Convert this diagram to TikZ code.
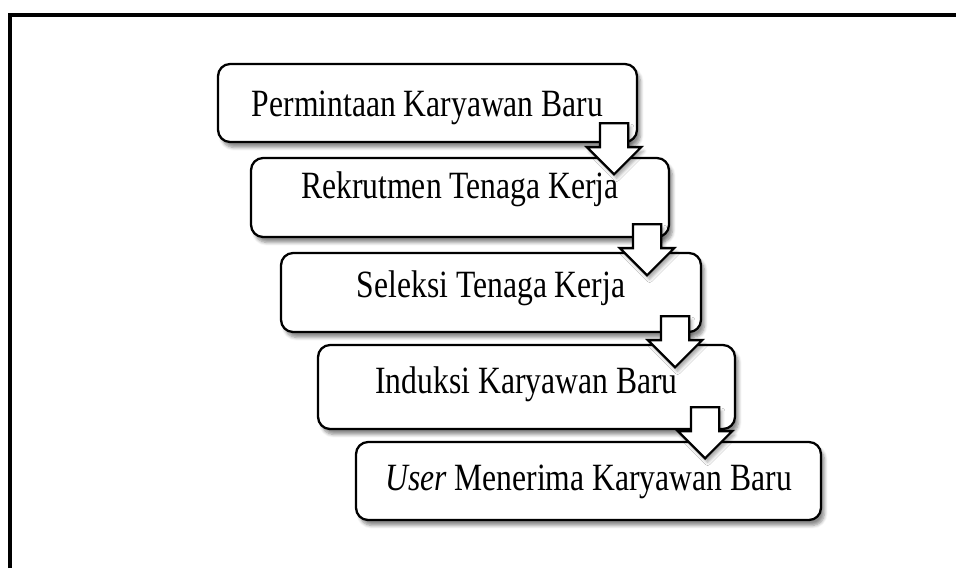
\documentclass[tikz,border=0pt]{standalone}
\usepackage{fontspec}
\setmainfont{Liberation Serif}
\usepackage{tikz}
\usetikzlibrary{shapes.arrows, shadows.blur, calc, positioning}

% tall step text
\newcommand{\steptext}[1]{\scalebox{1}[1.22]{#1}}

\tikzset{
    flowbox/.style={rectangle, rounded corners=0.24cm, draw, line width=1.3pt, fill=white,
        minimum width=#1, minimum height=1.58cm, inner sep=0pt,
        font=\fontsize{18}{22}\selectfont,
        blur shadow={shadow xshift=0.07cm, shadow yshift=-0.11cm, shadow blur steps=6, shadow opacity=45}},
    lift/.style={text height=#1, text depth=0pt},
    bigarrow/.style={single arrow, shape border rotate=270, draw, line width=1.3pt, fill=white,
        inner sep=0pt, text width=0.52cm, text height=0.52cm, text depth=0pt,
        minimum height=1.02cm, single arrow head extend=0.26cm,
        blur shadow={shadow xshift=0.05cm, shadow yshift=-0.08cm, shadow blur steps=5, shadow opacity=35}}
}

\begin{document}
\begin{tikzpicture}[x=0.02cm, y=-0.02cm]
    \useasboundingbox (0,0) rectangle (956,568);

    % Frame
    \coordinate (fbl) at (10,568);
    \coordinate (ftl) at (10,15);
    \coordinate (ftr) at (956,15);
    \draw[line width=2.3pt] (fbl) -- (ftl) -- (ftr);

    % Steps
    \node[flowbox=8.38cm, minimum height=1.56cm, lift=0.56cm] (req) at (427.5,103) {\steptext{Permintaan Karyawan Baru}};
    \node[flowbox=8.36cm, lift=0.04cm] (rekrut) at (460,197.5) {\steptext{Rekrutmen Tenaga Kerja}};
    \node[flowbox=8.4cm, lift=0.2cm] (seleksi) at (491,292.5) {\steptext{Seleksi Tenaga Kerja}};
    \node[flowbox=8.34cm, minimum height=1.68cm, lift=0.24cm] (induksi) at (526.5,387) {\steptext{Induksi Karyawan Baru}};
    \node[flowbox=9.3cm, minimum height=1.56cm, lift=0.36cm] (user) at (588.5,481) {\steptext{\textit{User} Menerima Karyawan Baru}};

    % Arrows between steps
    \node[bigarrow, anchor=tail] (arr1) at ($(req.south east)+(-24,-21)$) {};
    \node[bigarrow, anchor=tail] (arr2) at ($(rekrut.south east)+(-23,-15)$) {};
    \node[bigarrow, anchor=tail] (arr3) at ($(seleksi.south east)+(-27,-18)$) {};
    \node[bigarrow, anchor=tail] (arr4) at ($(induksi.south east)+(-31,-24)$) {};

\end{tikzpicture}
\end{document}
